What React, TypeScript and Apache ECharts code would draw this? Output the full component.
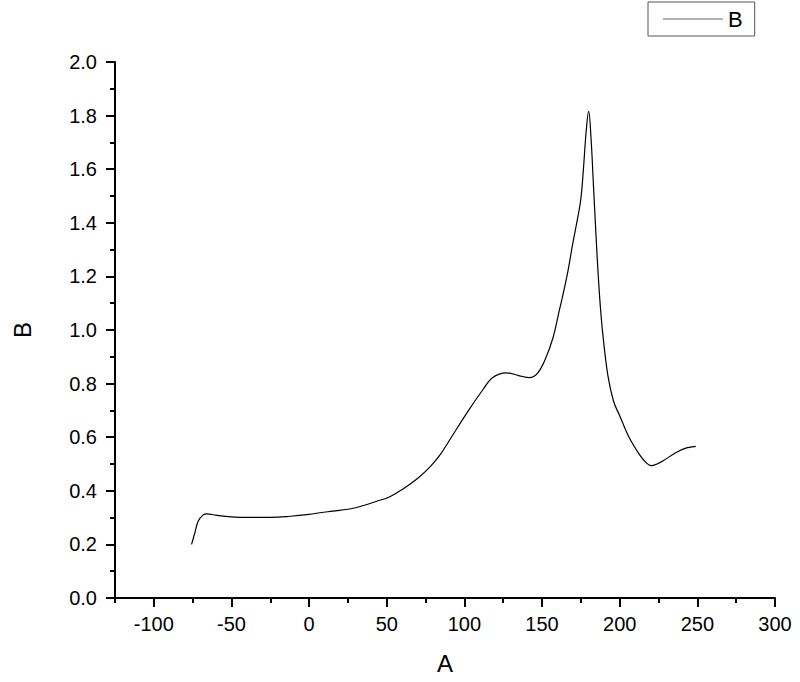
import React, { useEffect, useRef } from "react";
import * as echarts from "echarts";

const xValues = [
  -75.7, -73.5, -71.4, -68.2, -66, -60, -50, -40, -25, -12, 0, 7, 15, 27, 35, 43, 52, 60, 70,
  78, 85, 90, 103, 112, 118, 127, 135, 142, 147, 152, 157, 161, 166, 170, 173, 175, 176.5, 178.5,
  180, 181.5, 183, 184.5, 186, 187.5, 189.2, 192.4, 196, 200, 206, 213, 217, 220.3, 224, 228,
  236, 243, 249,
];
const yValues = [
  0.2, 0.245, 0.287, 0.31, 0.314, 0.309, 0.303, 0.301, 0.301, 0.305, 0.312, 0.318, 0.324,
  0.333, 0.345, 0.36, 0.378, 0.405, 0.447, 0.49, 0.54, 0.585, 0.703, 0.778, 0.822, 0.84, 0.83,
  0.822, 0.838, 0.89, 0.97, 1.07, 1.2, 1.33, 1.42, 1.49, 1.59, 1.748, 1.816, 1.72, 1.55,
  1.38, 1.22, 1.09, 0.98, 0.83, 0.735, 0.68, 0.6, 0.533, 0.505, 0.494, 0.5, 0.512, 0.542,
  0.56, 0.566,
];
const xMajorTicks = [-100, -50, 0, 50, 100, 150, 200, 250, 300];
const xMinorTicks = [-125, -75, -25, 25, 75, 125, 175, 225, 275];
const seriesName = "B";
const xName = "A";
const yName = "B";

export default function App() {
  const ref = useRef<HTMLDivElement>(null);
  useEffect(() => {
    if (!ref.current) return;
    const chart = echarts.init(ref.current, null, { renderer: "svg" });
    const font = "Liberation Sans, Arial, sans-serif";
    const axisLineStyle = { color: "#000", width: 2 };
    chart.setOption({
      animation: false,
      backgroundColor: "#fff",
      textStyle: { fontFamily: font },
      grid: {
        left: 115,
        right: 25,
        top: 62,
        bottom: 84,
        containLabel: false,
        outerBoundsMode: "none",
      },
      legend: {
        left: 648,
        top: 2,
        orient: "horizontal",
        padding: [6, 12, 6, 15],
        itemWidth: 60,
        itemHeight: 14,
        itemGap: 8,
        borderColor: "#555",
        borderWidth: 1,
        textStyle: { fontSize: 22, color: "#000", fontFamily: font },
        data: [{ name: seriesName, icon: "path://M0,0 L60,0 L60,1 L0,1 Z", itemStyle: { color: "#666" } }],
      },
      xAxis: [
        {
          type: "value",
          min: -125,
          max: 300,
          position: "bottom",
          name: xName,
          nameLocation: "middle",
          nameGap: 53,
          nameMoveOverlap: false,
          nameTextStyle: { fontSize: 24, color: "#000", fontFamily: font },
          axisLine: { show: true, onZero: false, lineStyle: axisLineStyle },
          axisTick: { show: true, length: 9, lineStyle: axisLineStyle, customValues: xMajorTicks },
          axisLabel: {
            customValues: xMajorTicks,
            fontSize: 20,
            color: "#000",
            margin: 16,
            fontFamily: font,
          },
          splitLine: { show: false },
        },
        {
          type: "value",
          min: -125,
          max: 300,
          position: "bottom",
          axisLine: { show: false, onZero: false },
          axisTick: { show: true, length: 5, lineStyle: axisLineStyle, customValues: xMinorTicks },
          axisLabel: { show: false },
          splitLine: { show: false },
        },
      ],
      yAxis: {
        type: "value",
        min: 0,
        max: 2,
        interval: 0.2,
        name: yName,
        nameLocation: "middle",
        nameGap: 81,
        nameMoveOverlap: false,
        nameTextStyle: { fontSize: 24, color: "#000", fontFamily: font },
        axisLine: { show: true, onZero: false, lineStyle: axisLineStyle },
        axisTick: { show: true, length: 9, lineStyle: axisLineStyle },
        minorTick: { show: true, splitNumber: 2, length: 5, lineStyle: axisLineStyle },
        axisLabel: {
          fontSize: 20,
          color: "#000",
          margin: 18,
          fontFamily: font,
          formatter: (v: number) => v.toFixed(1),
        },
        splitLine: { show: false },
        minorSplitLine: { show: false },
      },
      series: [
        {
          name: seriesName,
          type: "line",
          xAxisIndex: 0,
          data: xValues.map((x, i) => [x, yValues[i]]),
          symbol: "none",
          smooth: 0.4,
          lineStyle: { color: "#000", width: 1.2 },
          itemStyle: { color: "#000" },
        },
      ],
    });
    return () => chart.dispose();
  }, []);
  return (
    <div
      ref={ref}
      style={{ position: "fixed", left: 0, top: 0, width: 800, height: 682 }}
    />
  );
}
